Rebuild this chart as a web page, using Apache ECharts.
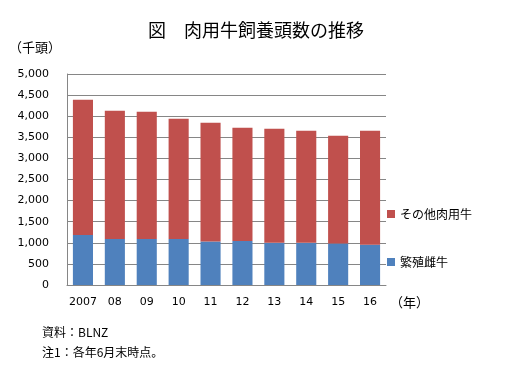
<!DOCTYPE html>
<html><head><meta charset="utf-8">
<script src="https://cdn.jsdelivr.net/npm/echarts@6/dist/echarts.min.js"></script>
<style>html,body{margin:0;padding:0;background:#fff}#c{width:512px;height:379px}</style>
</head><body><div id="c"></div>
<script>
const categories = ['2007','08','09','10','11','12','13','14','15','16'];
const breedingCows = [1187,1090,1090,1090,1030,1040,1000,1000,985,955];
const otherBeef = [3204,3040,3016,2850,2815,2686,2702,2655,2551,2700];
const seriesNames = ['繁殖雌牛','その他肉用牛'];
const yTicks = {min:0,max:5000,interval:500};

const jp = '"Noto Sans CJK JP", sans-serif';
const num = '"DejaVu Sans", sans-serif';
const chart = echarts.init(document.getElementById('c'));
chart.setOption({
  animation:false,
  title:{text:'図　肉用牛飼養頭数の推移',left:'center',top:16,textStyle:{fontFamily:jp,fontSize:18,fontWeight:'normal',color:'#000'}},
  grid:{left:67,right:126,top:74,bottom:94},
  legend:{orient:'vertical',left:382,top:203,itemWidth:8,itemHeight:8,itemGap:36,icon:'rect',
    data:[seriesNames[1],seriesNames[0]],textStyle:{fontFamily:jp,fontSize:12,color:'#000'}},
  xAxis:{type:'category',data:categories,axisLine:{lineStyle:{color:'#868686'}},axisTick:{show:false},
    axisLabel:{color:'#000',fontFamily:num,fontSize:11,margin:12,interval:0}},
  yAxis:{type:'value',min:yTicks.min,max:yTicks.max,interval:yTicks.interval,
    axisLine:{show:true,lineStyle:{color:'#868686'}},axisTick:{show:false},
    splitLine:{lineStyle:{color:'#868686'}},
    axisLabel:{color:'#000',fontFamily:num,fontSize:11,margin:18,formatter:v=>v.toLocaleString('en-US')}},
  series:[
    {name:seriesNames[0],type:'bar',stack:'t',data:breedingCows,barWidth:'63%',itemStyle:{color:'#4F81BD'}},
    {name:seriesNames[1],type:'bar',stack:'t',data:otherBeef,barWidth:'63%',itemStyle:{color:'#C0504D'}}
  ],
  graphic:[
    {type:'text',left:9,top:41,style:{text:'（千頭）',font:'13px '+jp,fill:'#000'}},
    {type:'text',left:390,top:296,style:{text:'（年）',font:'13px '+jp,fill:'#000'}},
    {type:'text',left:42,top:326,style:{text:'資料：BLNZ',font:'12px '+jp,fill:'#000'}},
    {type:'text',left:42,top:346,style:{text:'注1：各年6月末時点。',font:'12px '+jp,fill:'#000'}}
  ]
});
</script></body></html>
